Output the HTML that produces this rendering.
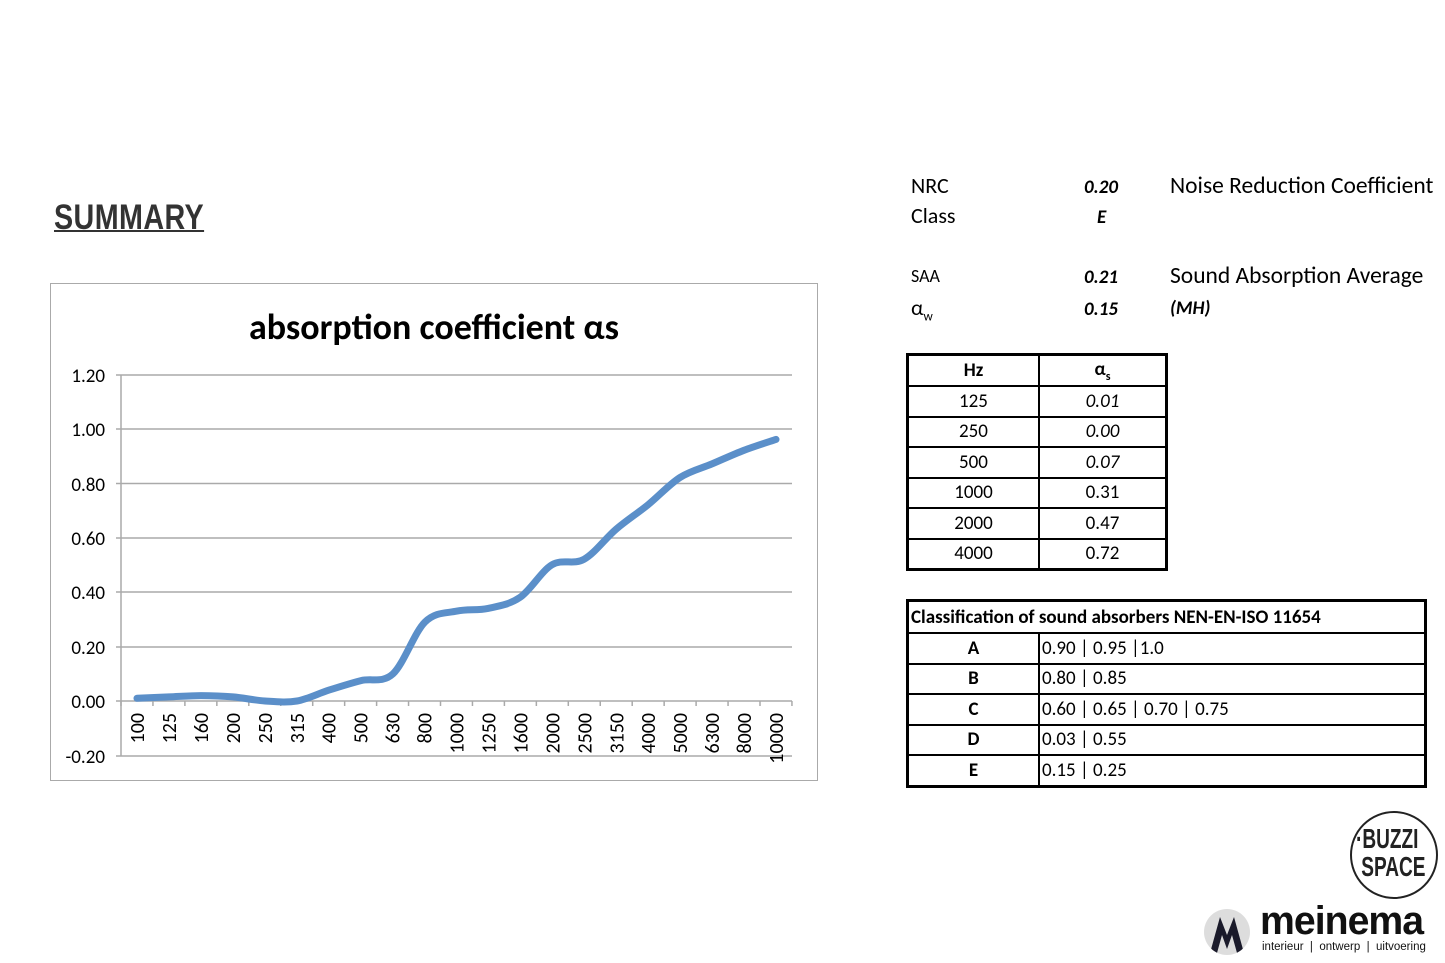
<!DOCTYPE html>
<html><head><meta charset="utf-8">
<style>
body{margin:0;width:1445px;height:963px;background:#fff;position:relative;overflow:hidden;font-family:"Liberation Sans",sans-serif;}
.a{position:absolute;white-space:nowrap;}
.cal{font-family:"Carlito","Liberation Sans",sans-serif;}
table{border-collapse:collapse;position:absolute;font-family:"Carlito","Liberation Sans",sans-serif;font-size:19px;}
td{border:2px solid #000;padding:0;height:28.5px;}
</style></head><body>
<div class="a" style="left:54px;top:198px;font-size:35px;font-weight:bold;color:#333;text-decoration:underline;text-decoration-thickness:2px;font-family:'Liberation Sans Narrow','Liberation Sans',sans-serif;transform:scaleX(0.82);transform-origin:left;letter-spacing:0.5px">SUMMARY</div>

<svg class="a" style="left:0;top:0" width="830" height="800">
<rect x="50.5" y="283.5" width="767" height="497" fill="#fff" stroke="#aaa"/>
<text x="434" y="339" text-anchor="middle" font-size="36" font-weight="bold" font-family="Carlito,Liberation Sans,sans-serif">absorption coefficient αs</text>
<g stroke="#aaa" stroke-width="1.5">
<line x1="116" y1="375" x2="792" y2="375"/><line x1="116" y1="429" x2="792" y2="429"/>
<line x1="116" y1="483.5" x2="792" y2="483.5"/><line x1="116" y1="538" x2="792" y2="538"/>
<line x1="116" y1="592" x2="792" y2="592"/><line x1="116" y1="647" x2="792" y2="647"/>
<line x1="116" y1="701" x2="792" y2="701"/><line x1="116" y1="756" x2="792" y2="756"/>
<line x1="121" y1="375" x2="121" y2="756"/>
</g>
<g id="ticks" stroke="#aaa" stroke-width="1.5"></g>
<g font-size="19" font-family="Carlito,Liberation Sans,sans-serif" text-anchor="end" fill="#000">
<text x="105" y="382">1.20</text><text x="105" y="436">1.00</text><text x="105" y="491">0.80</text>
<text x="105" y="545">0.60</text><text x="105" y="599">0.40</text><text x="105" y="654">0.20</text>
<text x="105" y="708">0.00</text><text x="105" y="763">-0.20</text>
</g>
<g id="xl" font-size="20" font-family="Carlito,Liberation Sans,sans-serif" fill="#000"></g>
<polyline id="ln" fill="none" stroke="#5b8fc9" stroke-width="7" stroke-linejoin="round" stroke-linecap="round" points="137,698.3 169,696.9 201,695.6 233,696.9 265,701 297,701 329,690.1 361,680.6 393,673.8 425,622 457,611.1 488,608.4 520,597.4 552,564.8 584,559.3 616,529.3 648,504.8 680,477.5 712,463.9 744,450.3 776,439.4"/>
<path id="cv" fill="none" stroke="#5b8fc9" stroke-width="7" stroke-linecap="round"/>
</svg>
<script>
var labs=["100","125","160","200","250","315","400","500","630","800","1000","1250","1600","2000","2500","3150","4000","5000","6300","8000","10000"];
var t="",x="";
for(var i=0;i<=21;i++){var xx=121+31.95*i;t+='<line x1="'+xx+'" y1="701" x2="'+xx+'" y2="706"/>';}
for(var i=0;i<21;i++){var cx=137+31.95*i+7;x+='<text transform="translate('+cx+',713) rotate(-90)" text-anchor="end">'+labs[i]+'</text>';}
document.getElementById("ticks").innerHTML=t;document.getElementById("xl").innerHTML=x;
var pl=document.getElementById("ln"),p=pl.getAttribute("points").trim().split(" ").map(function(s){return s.split(",").map(Number)});
var d="M"+p[0][0]+","+p[0][1];
for(var i=0;i<p.length-1;i++){var p0=p[i-1]||p[i],p1=p[i],p2=p[i+1],p3=p[i+2]||p2;
d+=" C"+(p1[0]+(p2[0]-p0[0])/6)+","+(p1[1]+(p2[1]-p0[1])/6)+" "+(p2[0]-(p3[0]-p1[0])/6)+","+(p2[1]-(p3[1]-p1[1])/6)+" "+p2[0]+","+p2[1];}
document.getElementById("cv").setAttribute("d",d);pl.style.display="none";
</script>

<div class="a cal" style="left:911px;top:172px;font-size:22px">NRC</div>
<div class="a cal" style="left:911px;top:202px;font-size:22px">Class</div>
<div class="a cal" style="left:1084px;top:176px;font-size:19px;font-style:italic;font-weight:bold">0.20</div>
<div class="a cal" style="left:1097px;top:206px;font-size:19px;font-style:italic;font-weight:bold">E</div>
<div class="a cal" style="left:1170px;top:172px;font-size:23.5px">Noise Reduction Coefficient</div>
<div class="a cal" style="left:911px;top:265px;font-size:18px">SAA</div>
<div class="a cal" style="left:911px;top:294px;font-size:22px">α<sub style="font-size:13px">w</sub></div>
<div class="a cal" style="left:1084px;top:266px;font-size:19px;font-style:italic;font-weight:bold">0.21</div>
<div class="a cal" style="left:1084px;top:298px;font-size:19px;font-style:italic;font-weight:bold">0.15</div>
<div class="a cal" style="left:1170px;top:262px;font-size:23.5px">Sound Absorption Average</div>
<div class="a cal" style="left:1170px;top:297px;font-size:19px;font-style:italic;font-weight:bold">(MH)</div>

<table style="left:906px;top:353px;width:262px;border:3px solid #000;text-align:center">
<tr><td style="width:129px;font-weight:bold;height:29px">Hz</td><td style="font-weight:bold">α<sub style="font-size:12px">s</sub></td></tr>
<tr><td>125</td><td><i>0.01</i></td></tr>
<tr><td>250</td><td><i>0.00</i></td></tr>
<tr><td>500</td><td><i>0.07</i></td></tr>
<tr><td>1000</td><td>0.31</td></tr>
<tr><td>2000</td><td>0.47</td></tr>
<tr><td>4000</td><td>0.72</td></tr>
</table>

<table style="left:906px;top:599px;width:521px;border:3px solid #000">
<tr><td colspan="2" style="font-weight:bold;height:30px;padding-left:2px">Classification of sound absorbers NEN-EN-ISO 11654</td></tr>
<tr><td style="width:129px;text-align:center;font-weight:bold">A</td><td style="padding-left:2px">0.90 | 0.95 |1.0</td></tr>
<tr><td style="text-align:center;font-weight:bold">B</td><td style="padding-left:2px">0.80 | 0.85</td></tr>
<tr><td style="text-align:center;font-weight:bold">C</td><td style="padding-left:2px">0.60 | 0.65 | 0.70 | 0.75</td></tr>
<tr><td style="text-align:center;font-weight:bold">D</td><td style="padding-left:2px">0.03 | 0.55</td></tr>
<tr><td style="text-align:center;font-weight:bold">E</td><td style="padding-left:2px">0.15 | 0.25</td></tr>
</table>

<div class="a" style="left:1350px;top:811px;width:84px;height:84px;border:2px solid #222;border-radius:50%"></div>
<div class="a" style="left:1356px;top:825px;font-size:28px;font-weight:bold;line-height:28px;font-family:'Liberation Sans Narrow','Liberation Sans',sans-serif;transform:scaleX(0.68);transform-origin:left;color:#222">·BUZZI<br>&nbsp;SPACE</div>
<div class="a" style="left:1204px;top:909px;width:46px;height:46px;border-radius:50%;background:#ddd;overflow:hidden">
<svg width="46" height="46"><path d="M6 44 L16 8 L23 26 L30 8 L40 44 L33 44 L28 26 L23 40 L18 26 L13 44Z" fill="#1a1a2a"/></svg></div>
<div class="a" style="left:1260px;top:899px;font-size:40px;font-weight:bold;letter-spacing:-1px;color:#111;transform:scaleX(0.98);transform-origin:left">meinema</div>
<div class="a" style="left:1262px;top:941px;font-size:11.5px;color:#111">interieur &nbsp;|&nbsp; ontwerp &nbsp;|&nbsp; uitvoering</div>
</body></html>
